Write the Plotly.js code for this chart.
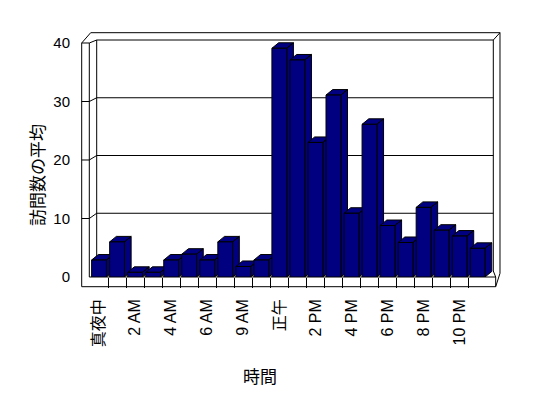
<!DOCTYPE html>
<html><head><meta charset="utf-8">
<script src="https://cdn.plot.ly/plotly-3.0.1.min.js"></script>
<style>body{margin:0;background:#fff}#chart{width:548px;height:398px}</style>
</head><body><div id="chart"></div>
<script>
// ---- data ----
const categories = ['真夜中','1 AM','2 AM','3 AM','4 AM','5 AM','6 AM','7 AM','9 AM','10 AM','正午','1 PM','2 PM','3 PM','4 PM','5 PM','6 PM','7 PM','8 PM','9 PM','10 PM','11 PM'];
const visits = [2.9,6,0.8,0.8,2.9,3.9,2.9,6,1.8,2.9,39.1,37.1,23,31.1,10.9,26.1,8.8,5.9,11.9,8,7,4.9];
const yTicks = [0,10,20,30,40];
const xTitle = '時間';
const yTitle = '訪問数の平均';

// ---- geometry (pixels) ----
const W = 548, H = 398;
const L = 90, R = 505, T = 33, B = 277;
const pitch = 18.03, unitPx = 5.85;
const xRange = [-0.5, -0.5 + (R - L) / pitch];
const yRange = [0, (B - T) / unitPx];
const barW = 0.82;
const dX = 6.7 / pitch, dY = 5.5 / unitPx;
const px = x => (x - L) / (R - L);
const py = y => (B - y) / (B - T);
const P = (x, y) => px(x).toFixed(5) + ',' + py(y).toFixed(5);

const wallOuter = 81.7, wallInner = 89.3, backLeft = 96.7, backRight = 493.3;
const outerRight = 500, outerTop = 32.7, floorBottom = 286.7;
const floorRight = L + (categories.length + 0.5 - xRange[0] - 0.5) * pitch; // right edge of last category
const frontY = v => B - v * unitPx;
const backZero = 271, backTopY = 40;
const yMax = yTicks[yTicks.length - 1];
const backY = v => backZero - v * (backZero - backTopY) / yMax;

const lineStyle = {color: '#000', width: 1};
const shapes = [];
const addPath = d => shapes.push({type: 'path', xref: 'paper', yref: 'paper', path: d, line: lineStyle, layer: 'below'});
const fr = floorRight;
// left wall front face + floor front face
addPath(`M${P(wallOuter, frontY(yMax))} L${P(wallInner, frontY(yMax))} L${P(wallInner, B)} L${P(fr, B)} L${P(fr, floorBottom)} L${P(wallOuter, floorBottom)} Z`);
// outer top/right edges of walls
addPath(`M${P(wallOuter, frontY(yMax))} L${P(wallOuter + 9, outerTop)} L${P(outerRight, outerTop)} L${P(outerRight, backZero + 2.3)} L${P(fr, floorBottom)}`);
// inner edges
addPath(`M${P(wallInner, frontY(yMax))} L${P(backLeft, backY(yMax))} L${P(backRight, backY(yMax))} L${P(outerRight, outerTop)}`);
addPath(`M${P(backLeft, backY(yMax))} L${P(backLeft, backZero)}`);
addPath(`M${P(backRight, backY(yMax))} L${P(backRight, backZero)} L${P(fr, B)}`);
// gridlines on side and back walls
yTicks.filter(v => v > 0 && v < yMax).forEach(v => {
  addPath(`M${P(wallOuter, frontY(v))} L${P(wallInner, frontY(v))} L${P(backLeft, backY(v))} L${P(backRight, backY(v))}`);
});

// ---- traces ----
const idx = categories.map((_, i) => i);
const traces = [];
visits.forEach((v, i) => {
  const lx = i - barW / 2, rx = i + barW / 2;
  const xs = [rx, rx + dX, rx + dX, rx, rx, null, lx, rx, rx + dX, lx + dX, lx];
  const ys = [0, dY, v + dY, v, 0, null, v, v, v + dY, v + dY, v];
  traces.push({type: 'scatter', mode: 'lines', x: xs, y: ys, fill: 'toself', fillcolor: '#000080',
    line: {color: '#000', width: 1}, xaxis: 'x', yaxis: 'y', hoverinfo: 'skip', showlegend: false});
});
traces.push({type: 'bar', x: idx, y: visits, width: barW, xaxis: 'x2', yaxis: 'y2',
  marker: {color: '#000080', line: {color: '#000', width: 1}}, showlegend: false});

const tickIdx = idx.filter(i => i % 2 === 0);
const boundaries = idx.slice(0, -1).map(i => i + 0.5);
const font = 'Liberation Sans, Arial, Noto Sans CJK JP, sans-serif';

const layout = {
  width: W, height: H,
  margin: {l: L, r: W - R, t: T, b: H - B, pad: 0},
  paper_bgcolor: '#fff', plot_bgcolor: 'rgba(0,0,0,0)',
  showlegend: false,
  xaxis: {domain: [0, 1], range: xRange, showgrid: false, zeroline: false, showline: false,
    tickvals: tickIdx, ticktext: tickIdx.map(i => categories[i]), tickangle: -90, ticks: '',
    ticklabelstandoff: 18, tickfont: {family: font, size: 16, color: '#000'}, fixedrange: true},
  yaxis: {domain: [0, 1], range: yRange, showgrid: false, zeroline: false, showline: false,
    tickvals: yTicks, ticks: '', ticklabelstandoff: 19, tickfont: {family: font, size: 15, color: '#000'}, fixedrange: true},
  xaxis2: {overlaying: 'x', anchor: 'y2', range: xRange, showgrid: false, zeroline: false, showline: false,
    tickvals: boundaries, ticks: 'outside', ticklen: 10, tickwidth: 1, tickcolor: '#000', showticklabels: false, fixedrange: true},
  yaxis2: {overlaying: 'y', range: yRange, visible: false, fixedrange: true},
  shapes: shapes,
  annotations: [
    {text: yTitle, xref: 'paper', yref: 'paper', x: px(36), y: py(175), textangle: -90, showarrow: false,
      xanchor: 'center', yanchor: 'middle', font: {family: 'Noto Sans CJK JP, sans-serif', size: 17, color: '#000'}},
    {text: xTitle, xref: 'paper', yref: 'paper', x: px(260), y: py(375), showarrow: false,
      xanchor: 'center', yanchor: 'middle', font: {family: 'Noto Sans CJK JP, sans-serif', size: 17, color: '#000'}}
  ]
};
Plotly.newPlot('chart', traces, layout, {displayModeBar: false, staticPlot: true});
</script>
</body></html>
